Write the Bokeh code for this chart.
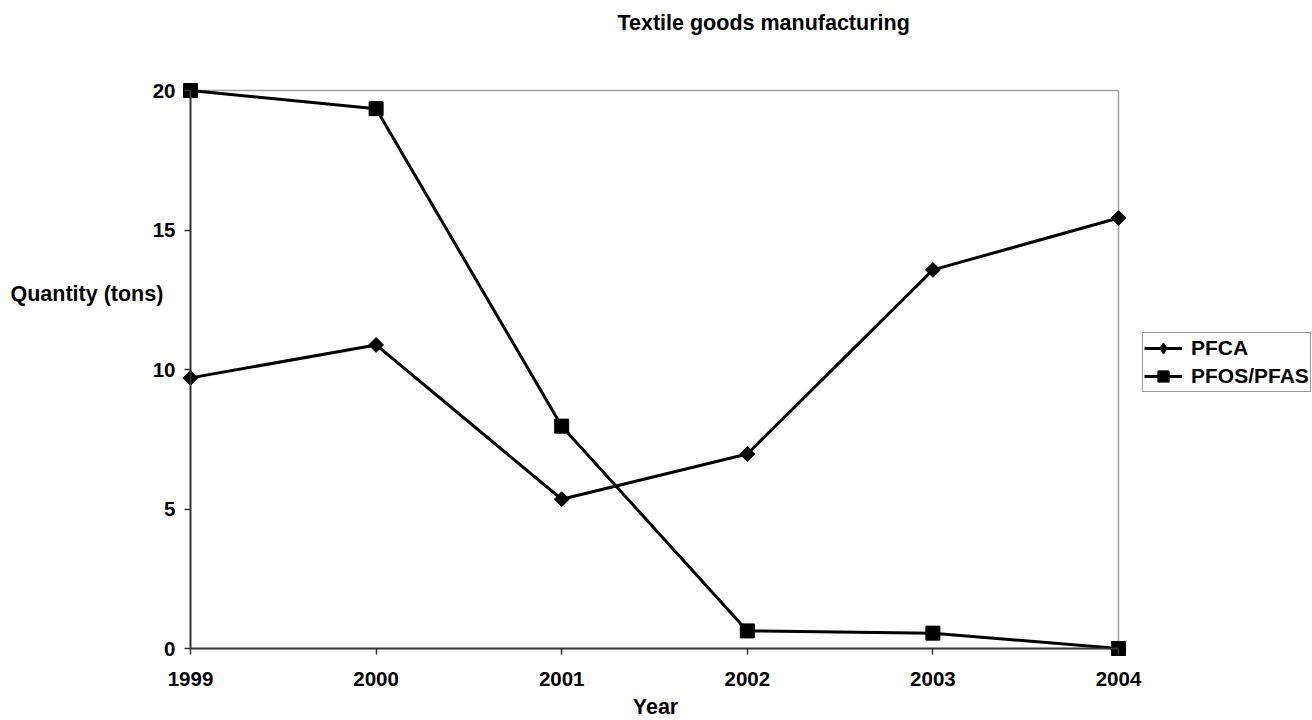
import numpy as np
from bokeh.plotting import figure
from bokeh.models import Range1d, FixedTicker, Label, Legend, LegendItem
from bokeh.embed import file_html
from bokeh.resources import INLINE

# ---- data ----
years = [1999, 2000, 2001, 2002, 2003, 2004]
pfca = [9.70, 10.88, 5.35, 6.97, 13.57, 15.43]
pfos = [20.00, 19.35, 7.97, 0.63, 0.55, 0.00]
y_ticks = [0, 5, 10, 15, 20]
series_names = ["PFCA", "PFOS/PFAS"]
title_text = "Textile goods manufacturing"
x_title = "Year"
y_title = "Quantity (tons)"

# ---- layout (canvas pixels) ----
W, H = 1312, 720
DL, DR, DT, DB = 190, 1118, 90, 648   # plot-area edges on the canvas
x0, x1 = years[0], years[-1]
y0, y1 = y_ticks[0], y_ticks[-1]
px_x = (DR - DL) / (x1 - x0)
px_y = (DB - DT) / (y1 - y0)

FONT = "Liberation Sans"
AXIS_COLOR = "#333333"

# the frame covers the whole canvas so nothing gets clipped
p = figure(width=W, height=H, output_backend="svg", toolbar_location=None,
           x_range=Range1d(x0 - DL / px_x, x1 + (W - DR) / px_x),
           y_range=Range1d(y0 - (H - DB) / px_y, y1 + DT / px_y),
           min_border=0, min_border_left=0, min_border_right=0,
           min_border_top=0, min_border_bottom=0)
try:
    p.title_location = None
except Exception:
    p.title.visible = False
p.outline_line_color = None
p.xgrid.visible = False
p.ygrid.visible = False
p.background_fill_color = "white"
p.border_fill_color = "white"

for ax in (p.xaxis[0], p.yaxis[0]):
    ax.axis_line_color = AXIS_COLOR
    ax.axis_line_width = 2
    ax.major_tick_line_color = AXIS_COLOR
    ax.major_tick_line_width = 1.5
    ax.major_tick_in = 0
    ax.major_tick_out = 6
    ax.minor_tick_line_color = None
    ax.minor_tick_in = 0
    ax.minor_tick_out = 0
    ax.major_label_text_font = FONT
    ax.major_label_text_font_style = "bold"
    ax.major_label_text_font_size = "20.5px"
    ax.major_label_text_color = "black"

p.xaxis.ticker = FixedTicker(ticks=years)
p.yaxis.ticker = FixedTicker(ticks=y_ticks)
p.xaxis.fixed_location = y0
p.yaxis.fixed_location = x0
p.xaxis.bounds = (x0, x1)
p.yaxis.bounds = (y0, y1)
p.xaxis.major_label_standoff = 17
p.yaxis.major_label_standoff = 9

# plot-area border: top / right in light gray
p.segment(x0=[x0, x1], y0=[y1, y0], x1=[x1, x1], y1=[y1, y1],
          line_color="#a0a0a0", line_width=1.5)

r1l = p.line(years, pfca, line_color="black", line_width=3)
r1m = p.scatter(years, pfca, marker="square", angle=np.pi / 4, size=10.5,
                fill_color="black", line_color="black")
r2l = p.line(years, pfos, line_color="black", line_width=3)
r2m = p.scatter(years, pfos, marker="square", size=14,
                fill_color="black", line_color="black")
# legend-only diamond (legend markers are drawn unrotated); NaN = not drawn in plot
r1k = p.scatter(x=[np.nan], y=[np.nan], marker="diamond", size=14,
                fill_color="black", line_color="black")

legend = Legend(items=[LegendItem(label=series_names[0], renderers=[r1l, r1k]),
                       LegendItem(label=series_names[1], renderers=[r2l, r2m])],
                location=(1142, H - 392))
legend.margin = 0
legend.padding = 1
legend.spacing = 0
legend.glyph_width = 38
legend.glyph_height = 28
legend.label_height = 20
legend.label_standoff = 9
legend.border_line_color = "#333333"
legend.border_line_width = 1
legend.background_fill_color = "white"
legend.background_fill_alpha = 1
legend.label_text_font = FONT
legend.label_text_font_style = "bold"
legend.label_text_font_size = "21px"
legend.label_text_color = "black"
p.add_layout(legend)

common = dict(x_units="screen", y_units="screen", text_font=FONT,
              text_font_style="bold", text_color="black", text_baseline="alphabetic",
              text_font_size="21.5px")
p.add_layout(Label(x=617, y=H - 22, text=title_text, text_align="left", **common))
p.add_layout(Label(x=10, y=H - 293, text=y_title, text_align="left", **common))
p.add_layout(Label(x=655, y=H - 706, text=x_title, text_align="center", **common))

open("out.html", "w").write(file_html(p, INLINE))
